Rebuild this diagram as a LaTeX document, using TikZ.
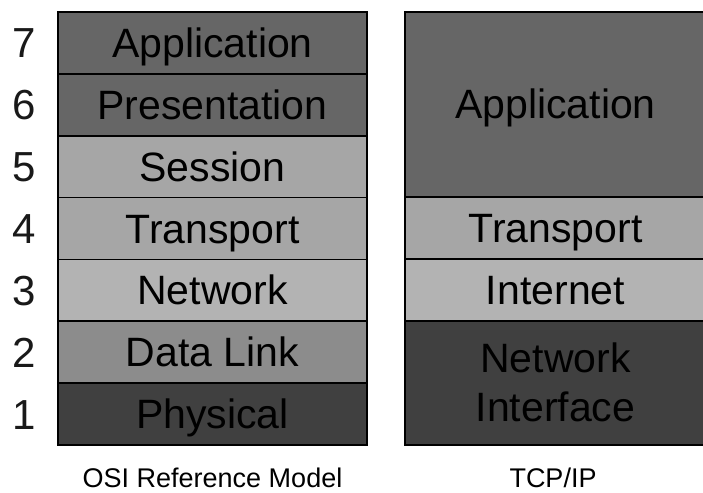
\documentclass[tikz,border=0pt]{standalone}
\usepackage{fontspec}
\setmainfont{Liberation Sans}
\definecolor{dkgray}{HTML}{666666}
\definecolor{midgray}{HTML}{A6A6A6}
\definecolor{ltgray}{HTML}{B3B3B3}
\definecolor{dlgray}{HTML}{8C8C8C}
\definecolor{physgray}{HTML}{404040}
\tikzset{
  layer/.style={draw=black, line width=1.6pt, inner sep=0pt, outer sep=0pt,
    text=black, font=\fontsize{41}{49}\selectfont,
    text height=29pt, text depth=0pt},
  osilayer/.style={layer, minimum width=309pt, minimum height=61.86pt},
  tcplayer/.style={layer, minimum width=301pt},
  layernum/.style={font=\fontsize{42}{50}\selectfont, text=black!90,
    text height=30pt, text depth=0pt, inner sep=0pt},
  caption/.style={font=\fontsize{27}{32}\selectfont, anchor=base, inner sep=0pt}
}
\begin{document}
\begin{tikzpicture}[x=1pt, y=1pt]
  \useasboundingbox (0,0) rectangle (703,492);
  \fill[white] (0,0) rectangle (703,492);

  % OSI reference model, seven layers
  \node[osilayer, fill=dkgray]   (osi7) at (212.5,449.07) {Application};
  \node[osilayer, fill=dkgray]   (osi6) at (212.5,387.21) {Presentation};
  \node[osilayer, fill=midgray]  (osi5) at (212.5,325.35) {Session};
  \node[osilayer, fill=midgray]  (osi4) at (212.5,263.49) {Transport};
  \node[osilayer, fill=ltgray]   (osi3) at (212.5,201.63) {Network};
  \node[osilayer, fill=dlgray]   (osi2) at (212.5,139.77) {Data Link};
  \node[osilayer, fill=physgray] (osi1) at (212.5,77.91)  {Physical};

  % layer numbers
  \foreach \n in {1,...,7}
    \node[layernum] (num\n) at (24,0 |- osi\n.center) {\n};

  % TCP/IP model
  \node[tcplayer, fill=dkgray, minimum height=185pt]    (tcpapp) at (555.5,387.5) {Application};
  \node[tcplayer, fill=midgray, minimum height=62pt]    (tcptr)  at (555.5,264)   {Transport};
  \node[tcplayer, fill=ltgray, minimum height=62pt]     (tcpin)  at (555.5,202)   {Internet};
  \node[tcplayer, fill=physgray, minimum height=124pt, align=center,
        text height=78pt] (tcpni) at (555.5,109) {Network\\Interface};

  % captions
  \node[caption] (osicap) at (212.5,4.5) {OSI Reference Model};
  \node[caption] (tcpcap) at (553,4.5) {TCP/IP};
\end{tikzpicture}
\end{document}
